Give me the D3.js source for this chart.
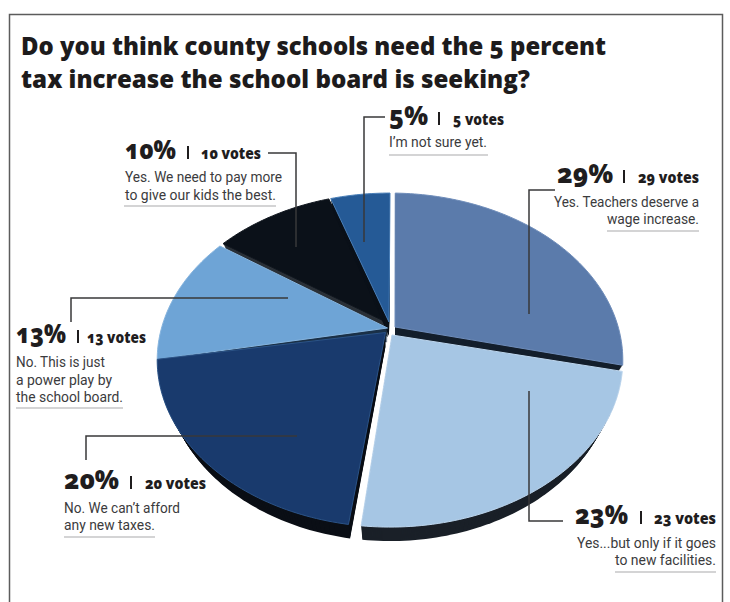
<!DOCTYPE html>
<html>
<head>
<meta charset="utf-8">
<script src="https://cdn.jsdelivr.net/npm/d3@7"></script>
<style>
  html, body { margin: 0; padding: 0; background: #fff; }
  svg { display: block; }
</style>
</head>
<body>
<svg id="chart" width="730" height="602"></svg>
<script>
// Poll results
const votes = [29, 23, 20, 13, 10, 5];
const percents = [29, 23, 20, 13, 10, 5];
const titleLines = [
  "Do you think county schools need the 5 percent",
  "tax increase the school board is seeking?"
];
const captionLines = [
  ["Yes. Teachers deserve a", "wage increase."],
  ["Yes...but only if it goes", "to new facilities."],
  ["No. We can\u2019t afford", "any new taxes."],
  ["No. This is just", "a power play by", "the school board."],
  ["Yes. We need to pay more", "to give our kids the best."],
  ["I\u2019m not sure yet."]
];

// Slice styling
const sliceFill = ["#5b7bab", "#a6c6e4", "#193a6d", "#6ea4d6", "#0b1119", "#255a96"];
const sliceEdge = ["#6f8dba", "#bdd6ee", "#2b5387", "#86b4de", "#10161e", "#4a7fb8"];
const wallFill = ["#141f2c", "#1a2028", "#0b0f16", "#1b3148", "#2b3138", "#0b1119"];

// Pie cuts: each slice has its own hub point and trims its rim a little
const hubs = [[395, 327], [392, 335], [385.5, 332.5], [387.5, 328], [388, 323], [389, 322]];
const rimTrim = [[0.027, 0.04], [-0.004, 0.022], [0.024, -0.012], [0.012, 0.018], [0.004, 0.004], [0.006, 0]];
const paintOrder = [4, 5, 3, 0, 2, 1];

// Tilted disc
const centerX = 390, centerY = 330, radiusX = 229, radiusY = 161.6, tilt = 0.18;
const wallDepth = 14, wallNarrowing = 0.039;

const svg = d3.select("#chart");

// Frame around the graphic
svg.append("path")
  .attr("d", "M9.5,602V14.5H722.5V602")
  .attr("fill", "none").attr("stroke", "#5c5c5c").attr("stroke-width", 1.5);

// Title
svg.selectAll("text.title").data(titleLines).join("text")
  .attr("class", "title")
  .attr("x", 21)
  .attr("y", (d, i) => 55 + i * 33)
  .attr("textLength", (d, i) => [585, 509][i])
  .attr("lengthAdjust", "spacingAndGlyphs")
  .attr("font-family", "'Open Sans'")
  .attr("font-weight", 800)
  .attr("font-size", 24.5)
  .attr("fill", "#1d1b1c")
  .style("font-variant-numeric", "oldstyle-nums")
  .text(d => d);

// Angles come from the vote counts
const arcs = d3.pie().sort(null).value(d => d)(votes);

// Maps a pie angle to the tilted disc; t runs from the top face (0) to the foot of the wall (1)
function rimPoint(angle, t) {
  const u = Math.sin(angle), v = -Math.cos(angle), w = 1 - tilt * v;
  return [
    centerX + radiusX * (1 - wallNarrowing * t) * u / w,
    centerY + radiusY * v / w + wallDepth * t
  ];
}

const outline = d3.line().curve(d3.curveLinearClosed);

function slicePath(index, t) {
  const a = arcs[index];
  const a0 = a.startAngle + rimTrim[index][0];
  const a1 = a.endAngle - rimTrim[index][1];
  const steps = Math.ceil((a1 - a0) / 0.02);
  const rim = d3.range(steps + 1).map(s => rimPoint(a0 + (a1 - a0) * s / steps, t));
  return outline([[hubs[index][0], hubs[index][1] + wallDepth * t], ...rim]);
}

const pie = svg.append("g").attr("class", "pie");
paintOrder.forEach(i => {
  const g = pie.append("g").attr("class", "slice").datum(arcs[i]);
  // Side wall, swept from the foot up to the top face
  d3.range(wallDepth, 0, -1).forEach(step => {
    g.append("path")
      .attr("d", slicePath(i, step / wallDepth))
      .attr("fill", wallFill[i]);
  });
  // Top face
  g.append("path")
    .attr("d", slicePath(i, 0))
    .attr("fill", sliceFill[i])
    .attr("stroke", sliceEdge[i])
    .attr("stroke-width", 1)
    .attr("stroke-linejoin", "round");
});

// Leader lines from each slice to its label
const leaders = [
  [[555, 190], [529, 190], [529, 314]],
  [[563, 521], [529, 521], [529, 391]],
  [[86, 460], [86, 436], [297, 436]],
  [[71, 322], [71, 298], [288, 298]],
  [[268, 153], [296, 153], [296, 247]],
  [[385, 117], [364, 117], [364, 242]]
];
svg.append("g").selectAll("path").data(leaders).join("path")
  .attr("d", d3.line())
  .attr("fill", "none")
  .attr("stroke", "#38383a")
  .attr("stroke-width", 1.5);

// Label placement: figure, separator, vote count, caption lines and closing rule
const labelLayout = [
  { pctX: 557, pctW: 56, sepX: 623, votesX: 638, votesW: 61, base: 183, lineYs: [207, 224], capX: [[554, 145], [607, 92]], rule: [607, 699, 231] },
  { pctX: 575, pctW: 53, sepX: 640, votesX: 654, votesW: 62, base: 524, lineYs: [548, 565], capX: [[577, 139], [615, 101]], rule: [615, 716, 572] },
  { pctX: 64, pctW: 55, sepX: 130, votesX: 145, votesW: 61, base: 489, lineYs: [513, 530], capX: [[64, 116], [64, 91]], rule: [64, 155, 537] },
  { pctX: 16, pctW: 50, sepX: 77, votesX: 87, votesW: 59, base: 343, lineYs: [367, 385, 402], capX: [[16, 89], [16, 96], [16, 107]], rule: [16, 123, 408] },
  { pctX: 125, pctW: 51, sepX: 187, votesX: 201, votesW: 60, base: 159, lineYs: [182, 200], capX: [[125, 157], [125, 151]], rule: [124, 276, 206] },
  { pctX: 389, pctW: 39, sepX: 438, votesX: 453, votesW: 51, base: 125, lineYs: [147], capX: [[389, 98]], rule: [389, 488, 155] }
];

const labels = svg.append("g").selectAll("g").data(labelLayout).join("g");

// Percentage figure
labels.append("text")
  .attr("x", d => d.pctX)
  .attr("y", d => d.base)
  .attr("textLength", d => d.pctW)
  .attr("lengthAdjust", "spacingAndGlyphs")
  .attr("font-family", "'Open Sans'")
  .attr("font-weight", 800)
  .attr("font-size", 27)
  .attr("fill", "#1f1d1e")
  .style("font-variant-numeric", "oldstyle-nums")
  .text((d, i) => percents[i] + "%");

labels.append("rect")
  .attr("x", d => d.sepX)
  .attr("y", d => d.base - 13)
  .attr("width", 2)
  .attr("height", 13)
  .attr("fill", "#1f1d1e");

labels.append("text")
  .attr("x", d => d.votesX)
  .attr("y", d => d.base)
  .attr("textLength", d => d.votesW)
  .attr("lengthAdjust", "spacingAndGlyphs")
  .attr("font-family", "'Open Sans'")
  .attr("font-weight", 800)
  .attr("font-size", 15)
  .attr("fill", "#1f1d1e")
  .style("font-variant-numeric", "oldstyle-nums")
  .text((d, i) => votes[i] + " votes");

labels.each(function (d, i) {
  const g = d3.select(this);
  captionLines[i].forEach((line, k) => {
    g.append("text")
      .attr("x", d.capX[k][0])
      .attr("y", d.lineYs[k])
      .attr("textLength", d.capX[k][1])
      .attr("lengthAdjust", "spacingAndGlyphs")
      .attr("font-family", "Roboto")
      .attr("font-size", 14)
      .attr("fill", "#3b3b3d")
      .text(line);
  });
  g.append("line")
    .attr("x1", d.rule[0]).attr("x2", d.rule[1])
    .attr("y1", d.rule[2]).attr("y2", d.rule[2])
    .attr("stroke", "#a9a9ab").attr("stroke-width", 1);
});
</script>
</body>
</html>
